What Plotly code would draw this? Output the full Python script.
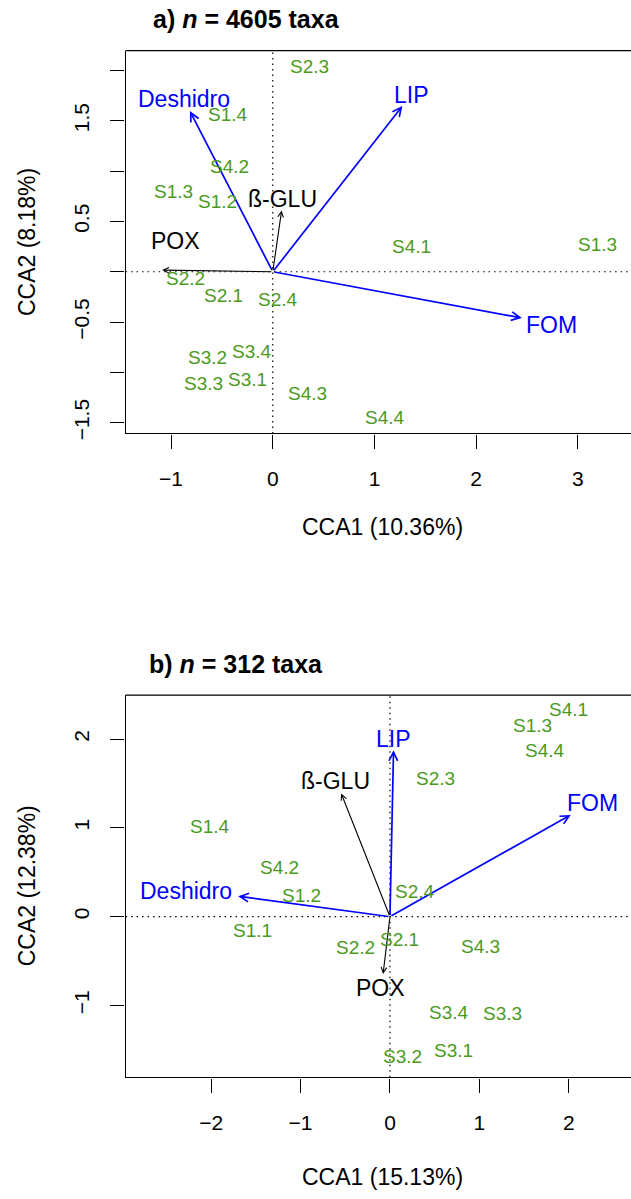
import plotly.graph_objects as go

# ---------------- Panel a data ----------------
a_site_labels = ["S2.3", "S1.4", "S4.2", "S1.3", "S1.2", "S4.1", "S1.3", "S2.2",
                 "S2.1", "S2.4", "S3.2", "S3.4", "S3.3", "S3.1", "S4.3", "S4.4"]
a_site_x = [0.364, -0.443, -0.427, -0.981, -0.546, 1.365, 3.19, -0.862,
            -0.487, 0.047, -0.645, -0.202, -0.684, -0.249, 0.344, 1.104]
a_site_y = [2.04, 1.5625, 1.053, 0.80, 0.70, 0.257, 0.28, -0.06,
            -0.23, -0.27, -0.849, -0.783, -1.10, -1.0625, -1.207, -1.44]

a_vec_names = ["Deshidro", "LIP", "ß-GLU", "POX", "FOM"]
a_vec_x = [-0.815, 1.274, 0.087, -1.088, 2.449]
a_vec_y = [1.595, 1.645, 0.609, 0.016, -0.46]
a_lab_x = [-0.874, 1.361, 0.099, -0.953, 2.738]
a_lab_y = [1.717, 1.76, 0.724, 0.3125, -0.526]
a_vec_group = ["blue", "blue", "black", "black", "blue"]

a_xticks = [-1, 0, 1, 2, 3]
a_xticktext = ["\u22121", "0", "1", "2", "3"]
a_yticks = [-1.5, -1.0, -0.5, 0, 0.5, 1.0, 1.5, 2.0]
a_yticktext = ["\u22121.5", "", "\u22120.5", "", "0.5", "", "1.5", ""]

# ---------------- Panel b data ----------------
b_site_labels = ["S4.1", "S1.3", "S4.4", "S2.3", "S1.4", "S4.2", "S1.2", "S2.4",
                 "S1.1", "S2.2", "S2.1", "S4.3", "S3.4", "S3.3", "S3.1", "S3.2"]
b_site_x = [1.995, 1.595, 1.73, 0.509, -2.013, -1.234, -0.995, 0.284,
            -1.536, -0.387, 0.108, 1.009, 0.658, 1.257, 0.716, 0.14]
b_site_y = [2.34, 2.16, 1.88, 1.556, 1.026, 0.56, 0.243, 0.287,
            -0.153, -0.336, -0.246, -0.328, -1.075, -1.086, -1.504, -1.567]

b_vec_names = ["LIP", "ß-GLU", "FOM", "Deshidro", "POX"]
b_vec_x = [0.04, -0.545, 2.022, -1.698, -0.077]
b_vec_y = [1.873, 1.388, 1.146, 0.231, -0.646]
b_lab_x = [0.036, -0.613, 2.266, -2.28, -0.108]
b_lab_y = [2.004, 1.53, 1.284, 0.295, -0.795]
b_vec_group = ["blue", "black", "blue", "blue", "black"]

b_xticks = [-2, -1, 0, 1, 2]
b_xticktext = ["\u22122", "\u22121", "0", "1", "2"]
b_yticks = [-1, 0, 1, 2]
b_yticktext = ["\u22121", "0", "1", "2"]

# ---------------- styling ----------------
W, H = 631, 1199
FONT = "Liberation Sans, Arial, Helvetica, sans-serif"
GREEN = "#4b9a1d"
COLORS = {"blue": "#0000ff", "black": "#000000"}
WIDTHS = {"blue": 1.7, "black": 1.1}
TEXT_SHIFT = -0.5  # px

left_px = 125.6
xdom = [left_px / W, 1.0]
a_top, a_bot = 51, 436
b_top, b_bot = 699.3, 1083.7
a_ydom = [1 - a_bot / H, 1 - a_top / H]
b_ydom = [1 - b_bot / H, 1 - b_top / H]

a_xrange = [-1.447, 3.522]
a_yrange = [-1.606, 2.195]
b_xrange = [-2.957, 2.696]
b_yrange = [-1.809, 2.493]

fig = go.Figure()

def add_panel(xa, ya, sx, sy, sl, vx, vy, lx, ly, names, groups):
    xref = xa
    yref = ya
    fig.add_trace(go.Scatter(x=[], y=[], xaxis=xa, yaxis=ya, showlegend=False))
    # dotted zero lines
    fig.add_shape(type="line", xref=xref, yref=yref + " domain", x0=0, x1=0, y0=0, y1=1,
                  line=dict(color="black", width=1.2, dash="1.5px,4px"), layer="below")
    fig.add_shape(type="line", xref=xref + " domain", yref=yref, x0=0, x1=1, y0=0, y1=0,
                  line=dict(color="black", width=1.2, dash="1.5px,4px"), layer="below")
    # top border
    fig.add_shape(type="line", xref=xref + " domain", yref=yref + " domain", x0=0, x1=1, y0=1, y1=1,
                  line=dict(color="black", width=1.3))
    # arrows
    for x, y, g in zip(vx, vy, groups):
        fig.add_annotation(
            x=x, y=y, ax=0, ay=0, xref=xref, yref=yref, axref=xref, ayref=yref,
            text="", showarrow=True, arrowhead=5, arrowsize=1.0,
            arrowwidth=WIDTHS[g], arrowcolor=COLORS[g], standoff=0, startstandoff=0)
    # site labels
    for x, y, t in zip(sx, sy, sl):
        fig.add_annotation(x=x, y=y, xref=xref, yref=yref, text=t, showarrow=False,
                           xanchor="center", yanchor="middle", yshift=TEXT_SHIFT,
                           font=dict(family=FONT, size=19, color=GREEN))
    # vector labels
    for x, y, t, g in zip(lx, ly, names, groups):
        fig.add_annotation(x=x, y=y, xref=xref, yref=yref, text=t, showarrow=False,
                           xanchor="center", yanchor="middle", yshift=TEXT_SHIFT,
                           font=dict(family=FONT, size=23, color=COLORS[g]))

add_panel("x", "y", a_site_x, a_site_y, a_site_labels, a_vec_x, a_vec_y,
          a_lab_x, a_lab_y, a_vec_names, a_vec_group)
add_panel("x2", "y2", b_site_x, b_site_y, b_site_labels, b_vec_x, b_vec_y,
          b_lab_x, b_lab_y, b_vec_names, b_vec_group)

axis_common = dict(showgrid=False, zeroline=False, showline=True, linecolor="black",
                   linewidth=1.3, ticks="outside", ticklen=14, tickwidth=1.3,
                   tickcolor="black", tickfont=dict(family=FONT, size=21, color="black"),
                   fixedrange=True)

fig.update_layout(
    width=W, height=H, margin=dict(l=0, r=0, t=0, b=0),
    paper_bgcolor="white", plot_bgcolor="white",
    xaxis=dict(domain=xdom, range=a_xrange, anchor="y", tickmode="array",
               tickvals=a_xticks, ticktext=a_xticktext, ticklabelstandoff=12, **axis_common),
    yaxis=dict(domain=a_ydom, range=a_yrange, anchor="x", tickmode="array",
               tickvals=a_yticks, ticktext=a_yticktext, tickangle=-90,
               ticklabelstandoff=13, **axis_common),
    xaxis2=dict(domain=xdom, range=b_xrange, anchor="y2", tickmode="array",
                tickvals=b_xticks, ticktext=b_xticktext, ticklabelstandoff=12, **axis_common),
    yaxis2=dict(domain=b_ydom, range=b_yrange, anchor="x2", tickmode="array",
                tickvals=b_yticks, ticktext=b_yticktext, tickangle=-90,
                ticklabelstandoff=13, **axis_common),
)

def px_ann(text, x, y, size, angle=0, xanchor="center"):
    fig.add_annotation(text=text, x=x / W, y=1 - y / H, xref="paper", yref="paper",
                       showarrow=False, textangle=angle, xanchor=xanchor, yanchor="middle",
                       font=dict(family=FONT, size=size, color="black"))

px_ann("<b>a) <i>n</i> = 4605 taxa</b>", 151, 19, 25, xanchor="left")
px_ann("<b>b) <i>n</i> = 312 taxa</b>", 147, 668, 25, xanchor="left")
px_ann("CCA1 (10.36%)", 382, 530, 23)
px_ann("CCA1 (15.13%)", 382, 1184, 23)
px_ann("CCA2 (8.18%)", 27, 243.5, 23, angle=-90)
px_ann("CCA2 (12.38%)", 27, 891.5, 23, angle=-90)

fig.write_html("out.html")
